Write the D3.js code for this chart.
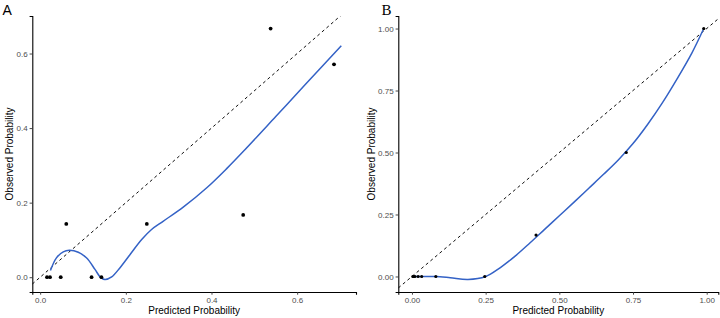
<!DOCTYPE html>
<html><head><meta charset="utf-8">
<script src="https://cdn.jsdelivr.net/npm/d3@7"></script>
<style>
html,body{margin:0;padding:0;background:#fff;}
svg{display:block;font-family:"Liberation Sans",Arial,sans-serif;}
</style></head><body>
<svg id="chart" width="720" height="318"></svg>
<script>
// Panel A data
const ptsAx = [0.016, 0.023, 0.048, 0.061, 0.120, 0.143, 0.249, 0.474, 0.538, 0.686];
const ptsAy = [0, 0, 0, 0.143, 0, 0, 0.143, 0.167, 0.667, 0.571];
const fitAx = [0.024, 0.038, 0.054, 0.068, 0.089, 0.108, 0.128, 0.140, 0.151, 0.167, 0.186, 0.210, 0.237, 0.260, 0.287, 0.334, 0.389, 0.436, 0.478, 0.550, 0.620, 0.703];
const fitAy = [0.018, 0.052, 0.068, 0.072, 0.067, 0.052, 0.021, 0.001, -0.006, 0.001, 0.025, 0.061, 0.101, 0.128, 0.150, 0.188, 0.240, 0.292, 0.342, 0.431, 0.518, 0.621];
const ticksAx = [0, 0.2, 0.4, 0.6];
const ticksAy = [0, 0.2, 0.4, 0.6];

// Panel B data
const ptsBx = [0.003, 0.006, 0.010, 0.021, 0.033, 0.081, 0.247, 0.421, 0.727, 0.990];
const ptsBy = [0, 0, 0, 0, 0, 0, 0, 0.167, 0.5, 1.0];
const fitBx = [0.003, 0.040, 0.080, 0.130, 0.190, 0.250, 0.300, 0.350, 0.400, 0.450, 0.500, 0.550, 0.600, 0.650, 0.700, 0.750, 0.800, 0.850, 0.900, 0.950, 0.990];
const fitBy = [0, 0, 0, -0.005, -0.012, 0, 0.036, 0.082, 0.135, 0.190, 0.245, 0.300, 0.356, 0.412, 0.470, 0.536, 0.614, 0.701, 0.798, 0.902, 1.0];
const ticksBx = [0, 0.25, 0.5, 0.75, 1.0];
const ticksBy = [0, 0.25, 0.5, 0.75, 1.0];

const svg = d3.select("#chart");

function expand(vals){
  const [a,b] = d3.extent(vals); const p = (b-a)*0.05; return [a-p, b+p];
}

function panel(cfg){
  const g = svg.append("g");
  const xs = d3.scaleLinear().domain(expand(cfg.px.concat(cfg.fx))).range([cfg.left, cfg.right]);
  const ys = d3.scaleLinear().domain(expand(cfg.py.concat(cfg.fy))).range([cfg.bottom, cfg.top]);
  const clipId = "clip" + cfg.label;
  svg.append("clipPath").attr("id", clipId).append("rect")
    .attr("x", cfg.left).attr("y", cfg.top).attr("width", cfg.right-cfg.left).attr("height", cfg.bottom-cfg.top);

  const plot = g.append("g").attr("clip-path", `url(#${clipId})`);
  // y = x reference line
  const xd = xs.domain();
  plot.append("line")
    .attr("x1", xs(xd[0])).attr("y1", ys(xd[0]))
    .attr("x2", xs(xd[1])).attr("y2", ys(xd[1]))
    .attr("stroke", "#000").attr("stroke-width", 0.95).attr("stroke-dasharray", "3,3");

  // smooth curve
  const fit = cfg.fx.map((x,i)=>[x, cfg.fy[i]]);
  plot.append("path").datum(fit)
    .attr("d", d3.line().x(d=>xs(d[0])).y(d=>ys(d[1])).curve(d3.curveCatmullRom.alpha(0.5)))
    .attr("fill", "none").attr("stroke", "#3462C6").attr("stroke-width", 1.5);

  // points
  const pts = cfg.px.map((x,i)=>[x, cfg.py[i]]);
  plot.selectAll("circle").data(pts).join("circle")
    .attr("cx", d=>xs(d[0])).attr("cy", d=>ys(d[1])).attr("r", cfg.r).attr("fill", "#000");

  // axes
  const xa = g.append("g").attr("transform", `translate(0,${cfg.bottom})`)
    .call(d3.axisBottom(xs).tickValues(cfg.tx).tickFormat(d3.format(cfg.fmt)).tickSizeOuter(0).tickSize(2.7).tickPadding(3));
  const ya = g.append("g").attr("transform", `translate(${cfg.left},0)`)
    .call(d3.axisLeft(ys).tickValues(cfg.ty).tickFormat(d3.format(cfg.fmt)).tickSizeOuter(0).tickSize(2.7).tickPadding(2));
  [xa, ya].forEach(a=>{
    a.select(".domain").attr("stroke", "#000").attr("stroke-width", 1.1);
    a.selectAll(".tick line").attr("stroke", "#333").attr("stroke-width", 0.9);
    a.selectAll(".tick text").attr("fill", "#4D4D4D").attr("font-size", 8)
      .attr("font-family", "Liberation Sans, Arial, sans-serif");
  });

  // titles
  g.append("text").attr("x", (cfg.left+cfg.right)/2).attr("y", 313.5)
    .attr("text-anchor", "middle").attr("font-size", 10).attr("fill", "#000")
    .text("Predicted Probability");
  g.append("text").attr("transform", `translate(${cfg.ytx},${(cfg.top+cfg.bottom)/2}) rotate(-90)`)
    .attr("text-anchor", "middle").attr("font-size", 10).attr("fill", "#000")
    .text("Observed Probability");
  g.append("text").attr("x", cfg.lx).attr("y", 15)
    .attr("font-size", cfg.lfs).attr("font-family", cfg.lfont).attr("fill", "#000")
    .text(cfg.label);
}

panel({label:"A", px:ptsAx, py:ptsAy, fx:fitAx, fy:fitAy, tx:ticksAx, ty:ticksAy, fmt:".1f",
  left:32.3, right:356, top:16, bottom:292, r:1.9, ytx:12.5, lx:2.5, lfs:14,
  lfont:"Liberation Sans, Arial, sans-serif"});
panel({label:"B", px:ptsBx, py:ptsBy, fx:fitBx, fy:fitBy, tx:ticksBx, ty:ticksBy, fmt:".2f",
  left:398.3, right:718.3, top:16, bottom:292, r:1.6, ytx:375, lx:381.5, lfs:15,
  lfont:"Liberation Serif, Times New Roman, serif"});
</script>
</body></html>
